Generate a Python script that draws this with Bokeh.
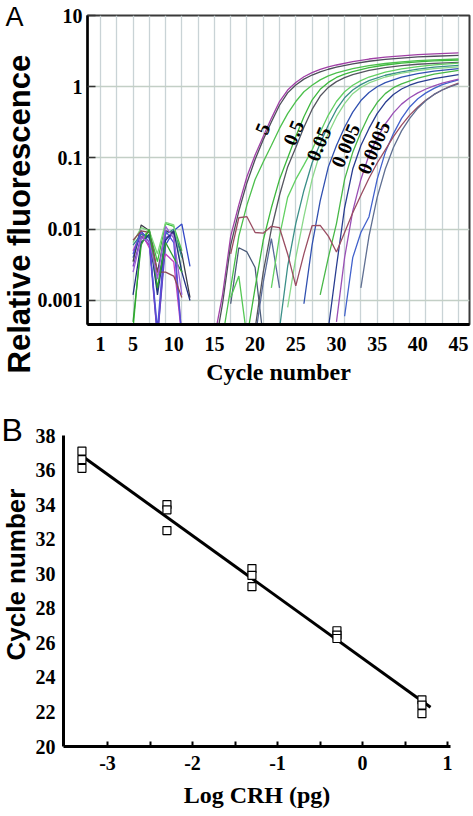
import numpy as np
from bokeh.plotting import figure
from bokeh.models import FixedTicker, CustomJSTickFormatter, Title
from bokeh.core.properties import value
from bokeh.embed import file_html
from bokeh.resources import INLINE

# ---------------- Panel A data: real-time PCR amplification curves ----------------
xticks_A = [1, 5, 10, 15, 20, 25, 30, 35, 40, 45]
yticks_A = [0.001, 0.01, 0.1, 1, 10]

early_cyc = [5, 6, 7, 8, 9, 10, 11]
early_cyc_long = [5, 6, 7, 8, 9, 10, 11, 12]
e1 = [0.004, 0.009, 0.0075, 0.0003, 0.006, 0.0095, 0.0118, 0.003]
e2 = [0.0004, 0.0075, 0.0095, 0.0035, 0.012, 0.011, 0.005]
e3 = [0.003, 0.008, 0.006, 0.0003, 0.0075, 0.009, 0.0003]
e4 = [0.0035, 0.0115, 0.0095, 0.0025, 0.0095, 0.009, 0.0045, 0.0011]
e5 = [0.005, 0.009, 0.0055, 0.0022, 0.0045, 0.0035, 0.0003]
e6 = [0.006, 0.0085, 0.0078, 0.0014, 0.0085, 0.01, 0.004]
e7 = [0.0065, 0.0105, 0.0095, 0.0045, 0.0125, 0.0115, 0.0025]
e8 = [0.0045, 0.0095, 0.0065, 0.0004, 0.0095, 0.0065, 0.0003]
e9 = [0.007, 0.0095, 0.009, 0.0025, 0.0025, 0.0022, 0.0011]
e10 = [0.0012, 0.0065, 0.0085, 0.0012, 0.007, 0.0095, 0.0025, 0.001]
e11 = [0.0005, 0.006, 0.01, 0.0015, 0.0065, 0.004, 0.0025]
e12 = [0.0025, 0.0075, 0.0068, 0.002, 0.011, 0.0075, 0.0012]

noise1_cyc = [17, 18, 19, 20, 21]
noise1_rf = [0.0009, 0.0055, 0.0048, 0.0029, 0.0003]
noise2_cyc = [20, 21, 22, 23]
noise2_rf = [0.0003, 0.0018, 0.0074, 0.0015]
noise3_cyc = [17, 18, 19]
noise3_rf = [0.0011, 0.0022, 0.0003]

amp1_cyc = [15, 16, 17, 18, 19, 20, 21, 22, 23, 24, 25, 26, 27, 28, 29, 30, 32, 34, 36, 38, 40, 42, 45]
amp1_rf = [0.0003, 0.0012, 0.008, 0.022, 0.055, 0.11, 0.2, 0.36, 0.62, 0.9, 1.15, 1.38, 1.58, 1.75, 1.9, 2.02, 2.25, 2.45, 2.6, 2.72, 2.82, 2.9, 2.98]
amp2_cyc = [15, 16, 17, 18, 19, 20, 21, 22, 23, 24, 25, 26, 27, 28, 29, 30, 32, 34, 36, 38, 40, 42, 45]
amp2_rf = [0.0002, 0.0009, 0.006, 0.018, 0.045, 0.095, 0.18, 0.32, 0.55, 0.82, 1.06, 1.28, 1.46, 1.62, 1.76, 1.88, 2.1, 2.28, 2.42, 2.53, 2.62, 2.68, 2.75]
amp3_cyc = [16, 17, 18, 19, 20, 21, 22, 23, 24, 25, 26, 27, 28, 29, 30, 32, 34, 36, 38, 40, 42, 45]
amp3_rf = [0.0003, 0.0015, 0.008, 0.022, 0.05, 0.088, 0.15, 0.26, 0.42, 0.62, 0.85, 1.05, 1.25, 1.42, 1.56, 1.8, 1.98, 2.12, 2.24, 2.32, 2.39, 2.45]
amp4_cyc = [19, 20, 21, 22, 23, 24, 25, 26, 27, 28, 29, 30, 31, 32, 34, 36, 38, 40, 42, 45]
amp4_rf = [0.0003, 0.0015, 0.007, 0.02, 0.05, 0.1, 0.2, 0.38, 0.65, 0.92, 1.15, 1.35, 1.5, 1.63, 1.85, 2.02, 2.14, 2.24, 2.3, 2.37]
amp5_cyc = [20, 21, 22, 23, 24, 25, 26, 27, 28, 29, 30, 31, 32, 34, 36, 38, 40, 42, 45]
amp5_rf = [0.0004, 0.0025, 0.01, 0.03, 0.075, 0.14, 0.27, 0.48, 0.74, 0.98, 1.18, 1.34, 1.48, 1.7, 1.86, 1.98, 2.07, 2.13, 2.2]
amp6_cyc = [22, 23, 24, 25, 26, 27, 28, 29, 30, 31, 32, 33, 34, 36, 38, 40, 42, 45]
amp6_rf = [0.0015, 0.008, 0.028, 0.05, 0.08, 0.13, 0.23, 0.4, 0.62, 0.85, 1.05, 1.22, 1.37, 1.6, 1.78, 1.92, 2.03, 2.15]
amp7_cyc = [23, 24, 25, 26, 27, 28, 29, 30, 31, 32, 33, 34, 36, 38, 40, 42, 45]
amp7_rf = [0.0004, 0.003, 0.012, 0.035, 0.085, 0.16, 0.29, 0.48, 0.7, 0.9, 1.07, 1.22, 1.45, 1.62, 1.77, 1.88, 2.0]
amp8_cyc = [24, 25, 26, 27, 28, 29, 30, 31, 32, 33, 34, 36, 38, 40, 42, 45]
amp8_rf = [0.0008, 0.004, 0.015, 0.05, 0.12, 0.22, 0.38, 0.58, 0.8, 0.98, 1.13, 1.37, 1.55, 1.68, 1.8, 1.9]
amp9_cyc = [26, 27, 28, 29, 30, 31, 32, 33, 34, 35, 36, 38, 40, 42, 45]
amp9_rf = [0.0009, 0.006, 0.025, 0.075, 0.15, 0.27, 0.44, 0.64, 0.83, 1.0, 1.14, 1.36, 1.53, 1.66, 1.8]
amp10_cyc = [28, 29, 30, 31, 32, 33, 34, 35, 36, 37, 38, 40, 42, 45]
amp10_rf = [0.0012, 0.004, 0.012, 0.05, 0.12, 0.23, 0.4, 0.6, 0.8, 0.97, 1.1, 1.32, 1.5, 1.7]
amp11_cyc = [29, 30, 31, 32, 33, 34, 35, 36, 37, 38, 39, 40, 42, 45]
amp11_rf = [0.0004, 0.003, 0.02, 0.07, 0.15, 0.26, 0.42, 0.6, 0.78, 0.93, 1.05, 1.15, 1.3, 1.48]
amp12_cyc = [31, 32, 33, 34, 35, 36, 37, 38, 39, 40, 41, 42, 43, 44, 45]
amp12_rf = [0.0006, 0.004, 0.009, 0.015, 0.05, 0.12, 0.22, 0.36, 0.52, 0.68, 0.82, 0.95, 1.07, 1.16, 1.25]
amp13_cyc = [30, 31, 32, 33, 34, 35, 36, 37, 38, 39, 40, 41, 42, 43, 44, 45]
amp13_rf = [0.0005, 0.004, 0.018, 0.05, 0.11, 0.19, 0.3, 0.43, 0.57, 0.7, 0.82, 0.93, 1.03, 1.12, 1.2, 1.28]
amp14_cyc = [17, 18, 19, 20, 21, 22, 23, 24, 25, 26, 27, 28, 29, 30, 31, 32, 33, 34, 35, 36, 37, 38, 39, 40, 41, 42, 43, 44, 45]
amp14_rf = [0.0045, 0.0145, 0.015, 0.009, 0.0088, 0.011, 0.0105, 0.0045, 0.0016, 0.0045, 0.0112, 0.0113, 0.008, 0.0048, 0.009, 0.017, 0.03, 0.052, 0.085, 0.13, 0.2, 0.29, 0.4, 0.52, 0.65, 0.78, 0.9, 1.02, 1.12]
amp15_cyc = [33, 34, 35, 36, 37, 38, 39, 40, 41, 42, 43, 44, 45]
amp15_rf = [0.0015, 0.008, 0.028, 0.07, 0.14, 0.24, 0.36, 0.5, 0.64, 0.78, 0.9, 1.0, 1.1]

curve_labels = ["5", "0.5", "0.05", "0.005", "0.0005"]
label_cyc = [20.9, 24.7, 27.8, 31.1, 34.55]
label_rf = [0.257, 0.226, 0.158, 0.149, 0.14]

# ---------------- Panel B data: standard curve ----------------
log_crh = [-3.301, -2.301, -1.301, -0.301, 0.699]
ct_rep1 = [37.1, 34.0, 30.3, 26.7, 22.7]
ct_rep2 = [36.6, 33.7, 29.9, 26.45, 22.4]
ct_rep3 = [36.1, 32.5, 29.25, 26.25, 21.9]
fit_x = [-3.3, 0.8]
xticks_B = [-3, -2, -1, 0, 1]
xminor_B = [-2.5, -1.5, -0.5, 0.5]
yticks_B = [20, 22, 24, 26, 28, 30, 32, 34, 36, 38]

SERIF = "Liberation Serif"
SANS = "Liberation Sans"

# ================= Panel A =================
pA = figure(width=473, height=406, x_range=(-0.598, 46.35), y_range=(0.00046, 10),
            y_axis_type="log", output_backend="svg", toolbar_location=None, title=None,
            min_border_left=87, min_border_right=4, min_border_top=15, min_border_bottom=82)
pA.background_fill_color = "white"
pA.outline_line_color = "#3a3a3a"
pA.outline_line_width = 2

pA.xgrid.ticker = FixedTicker(ticks=list(range(1, 46, 2)))
pA.xgrid.grid_line_color = "#c9d3d6"
pA.xgrid.grid_line_width = 1.3
pA.ygrid.ticker = FixedTicker(ticks=yticks_A)
pA.ygrid.grid_line_color = "#c3cfc6"
pA.ygrid.grid_line_width = 1.5

pA.xaxis.ticker = FixedTicker(ticks=xticks_A)
pA.yaxis.ticker = FixedTicker(ticks=yticks_A)
pA.yaxis.formatter = CustomJSTickFormatter(code="return String(tick);")
for ax in (pA.xaxis, pA.yaxis):
    ax.major_label_text_font = SERIF
    ax.major_label_text_font_style = "bold"
    ax.major_label_text_font_size = "20px"
    ax.major_label_text_color = "black"
    ax.axis_line_color = "black"
    ax.minor_tick_line_color = None
pA.xaxis.major_tick_line_color = None
pA.xaxis.major_tick_in = 0
pA.xaxis.major_tick_out = 0
pA.xaxis.major_label_standoff = 12
pA.xaxis.axis_line_width = 3
pA.yaxis.axis_line_width = 2.5
pA.yaxis.major_tick_in = 8
pA.yaxis.major_tick_out = 0
pA.yaxis.major_tick_line_width = 1.5
pA.yaxis.major_tick_line_color = "#333333"
pA.yaxis.major_label_standoff = 5
pA.xaxis.axis_label = "Cycle number"
pA.xaxis.axis_label_text_font = SERIF
pA.xaxis.axis_label_text_font_style = "bold"
pA.xaxis.axis_label_text_font_size = "24px"
pA.xaxis.axis_label_text_color = "black"
pA.xaxis.axis_label_standoff = 5

early = [
    (early_cyc_long, e1, "#3348c8"), (early_cyc, e2, "#3fc23f"), (early_cyc, e3, "#7a3fc0"),
    (early_cyc_long, e4, "#3d3d48"), (early_cyc, e5, "#c23fbf"), (early_cyc, e6, "#2f8585"),
    (early_cyc, e7, "#7dd67d"), (early_cyc, e8, "#5050d8"), (early_cyc, e9, "#8e4b55"),
    (early_cyc_long, e10, "#22307f"), (early_cyc, e11, "#2fa22f"), (early_cyc, e12, "#9a62d6"),
]
for xs, ys, c in early:
    pA.line(xs[:len(ys)], ys, line_color=c, line_width=1.3)

for xs, ys, c in [(noise1_cyc, noise1_rf, "#4a5a78"), (noise2_cyc, noise2_rf, "#5a6a9a"),
                  (noise3_cyc, noise3_rf, "#55c855")]:
    pA.line(xs, ys, line_color=c, line_width=1.3)

amps = [
    (amp1_cyc, amp1_rf, "#a040a6"), (amp2_cyc, amp2_rf, "#4d4d5a"), (amp3_cyc, amp3_rf, "#4cc04c"),
    (amp4_cyc, amp4_rf, "#3db83d"), (amp5_cyc, amp5_rf, "#55555f"), (amp6_cyc, amp6_rf, "#62d062"),
    (amp7_cyc, amp7_rf, "#3a8f88"), (amp8_cyc, amp8_rf, "#8ad88a"), (amp9_cyc, amp9_rf, "#3050b0"),
    (amp10_cyc, amp10_rf, "#48b848"), (amp11_cyc, amp11_rf, "#283c90"), (amp12_cyc, amp12_rf, "#4262cc"),
    (amp13_cyc, amp13_rf, "#9a4fb5"), (amp14_cyc, amp14_rf, "#9a4d62"), (amp15_cyc, amp15_rf, "#5f6f92"),
]
for xs, ys, c in amps:
    pA.line(xs, ys, line_color=c, line_width=1.3)

pA.text(x=label_cyc, y=label_rf, text=curve_labels, angle=1.17,
        text_align="center", text_baseline="middle", text_font=value(SERIF),
        text_font_style="bold", text_font_size="20px", text_color="black")

pA.add_layout(Title(text="Relative fluorescence", align="left", offset=-49,
                    vertical_align="top", standoff=-9, text_font=SANS, text_font_style="bold",
                    text_font_size="31px", text_color="black"), "left")
pA.add_layout(Title(text="A", align="left", offset=-82, vertical_align="bottom",
                    standoff=-32, text_font=SANS, text_font_style="normal",
                    text_font_size="27px", text_color="black"), "above")

# ================= Panel B =================
pB = figure(width=473, height=404, x_range=(-3.518, 1.035), y_range=(20, 38.0),
            output_backend="svg", toolbar_location=None, title=None,
            min_border_left=63, min_border_right=23, min_border_top=29, min_border_bottom=64)
pB.outline_line_color = None
pB.xgrid.visible = False
pB.ygrid.visible = False

pB.xaxis.ticker = FixedTicker(ticks=xticks_B, minor_ticks=xminor_B)
pB.xaxis.formatter = CustomJSTickFormatter(code="return String(tick);")
pB.yaxis.ticker = FixedTicker(ticks=yticks_B)
for ax in (pB.xaxis, pB.yaxis):
    ax.major_label_text_font = SERIF
    ax.major_label_text_font_style = "bold"
    ax.major_label_text_font_size = "20px"
    ax.major_label_text_color = "black"
    ax.axis_line_color = "black"
    ax.axis_line_width = 3
pB.xaxis.major_tick_in = 5
pB.xaxis.major_tick_out = 0
pB.xaxis.minor_tick_in = 5
pB.xaxis.minor_tick_out = 0
pB.xaxis.major_tick_line_width = 2
pB.xaxis.minor_tick_line_width = 2
pB.xaxis.major_tick_line_color = "black"
pB.xaxis.minor_tick_line_color = "black"
pB.xaxis.major_label_standoff = 9
pB.yaxis.major_tick_line_color = None
pB.yaxis.minor_tick_line_color = None
pB.yaxis.major_tick_in = 0
pB.yaxis.major_tick_out = 0
pB.yaxis.major_label_standoff = 8
pB.xaxis.axis_label = "Log CRH (pg)"
pB.xaxis.axis_label_text_font = SERIF
pB.xaxis.axis_label_text_font_style = "bold"
pB.xaxis.axis_label_text_font_size = "24px"
pB.xaxis.axis_label_text_color = "black"
pB.xaxis.axis_label_standoff = 9

all_x = log_crh * 3
all_y = ct_rep1 + ct_rep2 + ct_rep3
slope, intercept = np.polyfit(all_x, all_y, 1)
fit_y = [slope * v + intercept for v in fit_x]
pB.line(fit_x, fit_y, line_color="black", line_width=3)
pB.scatter(all_x, all_y, marker="square", size=8, fill_color="white",
           line_color="black", line_width=1.2)

pB.add_layout(Title(text="Cycle number", align="left", offset=86, vertical_align="top",
                    standoff=0, text_font=SANS, text_font_style="bold",
                    text_font_size="26px", text_color="black"), "left")
pB.add_layout(Title(text="B", align="left", offset=-62, vertical_align="bottom",
                    standoff=-24, text_font=SANS, text_font_style="normal",
                    text_font_size="32px", text_color="black"), "above")

open("out.html", "w").write(file_html([pA, pB], INLINE, title="qPCR"))
